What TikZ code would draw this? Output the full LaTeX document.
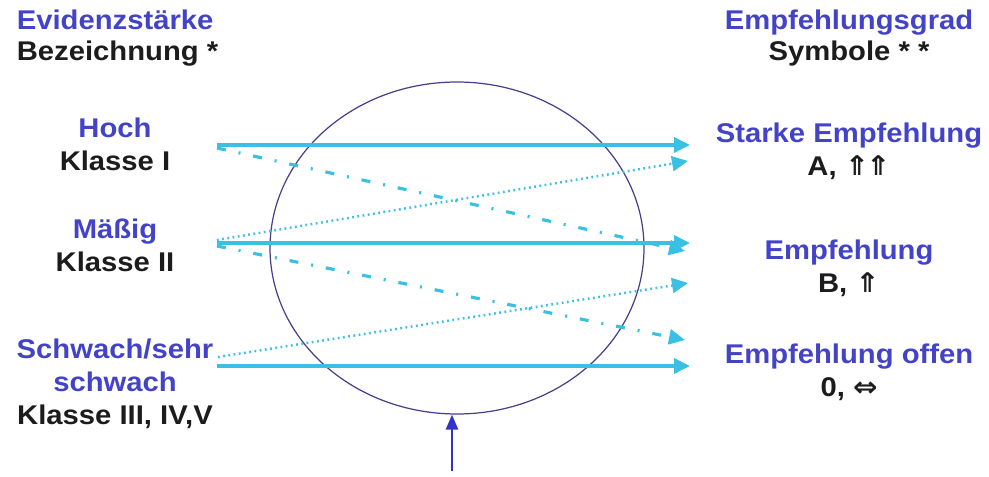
\documentclass[tikz,border=0pt]{standalone}
\usepackage{fontspec}
\usepackage{xcolor}
\usepackage{tikz}
\usetikzlibrary{arrows.meta,positioning,calc,shapes.geometric}
\setmainfont{Liberation Sans}[FakeStretch=1.08]
\newfontfamily\arrowfont{DejaVu Sans}[FakeStretch=1.08]
\definecolor{TitleBlue}{HTML}{4343C8}
\definecolor{TextBlack}{HTML}{1C1C1C}
\definecolor{FlowCyan}{HTML}{3AC0E2}
\definecolor{RingPurple}{HTML}{4A3F8A}
\definecolor{UpBlue}{HTML}{3232C4}

\begin{document}
\begin{tikzpicture}[>=Latex]
\tikzset{head/.style={font=\bfseries\fontsize{15.4}{17.2}\selectfont, text=TextBlack, inner sep=0pt, align=center}, lbl/.style={font=\bfseries\fontsize{15.4}{18.8}\selectfont, text=TextBlack, inner sep=0pt, align=center}, solid flow/.style={draw=FlowCyan, line width=2pt, -{Triangle[length=0.32cm,width=0.3cm]}}, dot flow/.style={draw=FlowCyan, line width=1.4pt, dash pattern=on 1pt off 2pt, -{Triangle[length=0.32cm,width=0.3cm]}}, dashdot flow/.style={draw=FlowCyan, line width=1.8pt, dash pattern=on 0.18cm off 0.26cm on 0.04cm off 0.26cm, -{Triangle[length=0.32cm,width=0.3cm]}}}
\useasboundingbox (0,0) rectangle (19.78,9.52);
% headings
\node[head, align=left, anchor=west] (evid) at (0.33,8.76) {\textcolor{TitleBlue}{Evidenzstärke}\\Bezeichnung *};
\node[head] (grad) at (16.98,8.76) {\textcolor{TitleBlue}{Empfehlungsgrad}\\Symbole * *};
% levels of evidence
\node[lbl] (hoch) at (2.3,6.64) {\textcolor{TitleBlue}{Hoch}\\Klasse I};
\node[lbl] (maessig) at (2.3,4.62) {\textcolor{TitleBlue}{Mäßig}\\Klasse II};
\node[lbl] (schwach) at (2.3,1.84) {\textcolor{TitleBlue}{Schwach/sehr}\\\textcolor{TitleBlue}{schwach}\\Klasse III, IV,V};
% grades of recommendation
\node[lbl] (starke) at (16.98,6.49) {\textcolor{TitleBlue}{Starke Empfehlung}\\A,\ {\arrowfont\bfseries ⇑\kern-0.12em⇑}};
\node[lbl] (empf) at (16.98,4.16) {\textcolor{TitleBlue}{Empfehlung}\\B, {\arrowfont\bfseries ⇑}};
\node[lbl] (offen) at (16.98,2.08) {\textcolor{TitleBlue}{Empfehlung offen}\\0, {\arrowfont\bfseries ⇔}};
% circle of considerations
\node[draw=RingPurple, line width=0.7pt, ellipse, minimum width=7.48cm, minimum height=6.64cm, inner sep=0pt] (ring) at (9.14,4.56) {};
\coordinate (hochA) at (4.34,6.62); \coordinate (hochB) at (4.34,6.56);
\coordinate (maesA) at (4.34,4.72); \coordinate (maesB) at (4.34,4.66); \coordinate (maesC) at (4.34,4.6);
\coordinate (schwA) at (4.36,2.38); \coordinate (schwB) at (4.34,2.2);
\coordinate (starkeA) at (13.8,6.62); \coordinate (starkeB) at (13.76,6.3);
\coordinate (empfA) at (13.8,4.66); \coordinate (empfB) at (13.7,4.5); \coordinate (empfC) at (13.76,3.86);
\coordinate (offenA) at (13.7,2.72); \coordinate (offenB) at (13.8,2.2);
\coordinate (foot) at (9.04,0.1);
\draw[solid flow] (hochA)--(starkeA); \draw[dashdot flow] (hochB)--(empfB);
\draw[dot flow] (maesA)--(starkeB); \draw[solid flow] (maesB)--(empfA); \draw[dashdot flow] (maesC)--(offenA);
\draw[dot flow] (schwA)--(empfC); \draw[solid flow] (schwB)--(offenB);
\draw[UpBlue, line width=1.4pt, -{Triangle[length=0.3cm,width=0.24cm]}] (foot)--(foot |- ring.south);
\end{tikzpicture}
\end{document}
